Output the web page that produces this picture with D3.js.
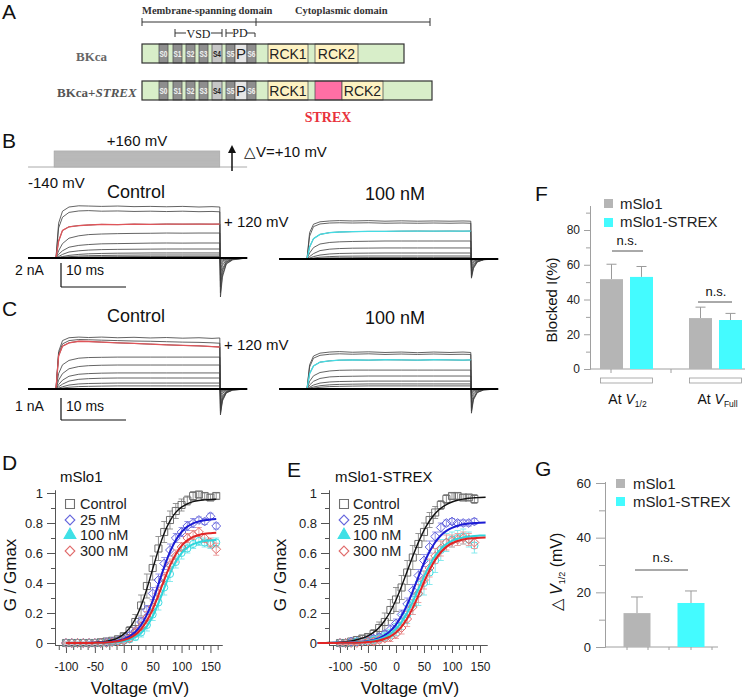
<!DOCTYPE html>
<html><head><meta charset="utf-8">
<script src="https://cdnjs.cloudflare.com/ajax/libs/d3/7.8.5/d3.min.js"></script>
<style>body{margin:0;background:#fff} svg{display:block}</style>
</head><body><svg id="fig" width="745" height="697"></svg>
<script>
// ================= DATA =================
// Panel A: domain map (residue-like units along the construct)
const coreSegments = [["S0",17,26,"tm"],["S1",31,40,"tm"],["S2",44,53,"tm"],["S3",57,66,"tm"],["S4",70,80,"s4"],["S5",84,93,"tm"],["P",93,105,"p"],["S6",105,114,"tm"],["RCK1",126,166,"rck"]];
const bkcaCyto = [["RCK2",173,216,"rck"]];
const strexCyto = [["",173,200,"strex"],["RCK2",200,241,"rck"]];
const bkcaLength = 262, strexLength = 290;

// Panels B, C: current traces (nA) sampled at these times (ms)
const traceTime = [-4.3,0,0.4,1,2,3.5,5,7,9.5,12,14.5,17,19.5,22,24,25.2,25.3,25.6,26.2,27.2,29.4];
const bControl = [
 [0,0,2.9,3.9,4.25,4.35,4.33,4.3,4.33,4.28,4.3,4.27,4.3,4.25,4.28,4.25,-3.25,-1.6,-0.5,-0.15,0],
 [0,0,2.5,3.4,3.8,3.92,3.95,3.9,3.92,3.88,3.9,3.87,3.9,3.86,3.88,3.85,-2.9,-1.4,-0.45,-0.12,0],
 [0,0,1.4,2.3,2.6,2.7,2.75,2.8,2.78,2.82,2.8,2.83,2.82,2.83,2.82,2.83,-2.4,-1.1,-0.35,-0.1,0],
 [0,0,0.6,1.2,1.65,1.85,1.95,2.0,2.03,2.05,2.06,2.08,2.07,2.08,2.08,2.08,-1.9,-0.9,-0.3,-0.08,0],
 [0,0,0.3,0.6,0.9,1.05,1.12,1.18,1.2,1.22,1.24,1.25,1.24,1.25,1.25,1.25,-1.4,-0.6,-0.2,-0.05,0],
 [0,0,0.12,0.3,0.5,0.6,0.66,0.7,0.72,0.73,0.74,0.75,0.75,0.75,0.75,0.75,-1.0,-0.4,-0.12,-0.03,0],
 [0,0,0.05,0.12,0.22,0.3,0.35,0.38,0.4,0.41,0.42,0.42,0.42,0.42,0.42,0.42,-0.6,-0.25,-0.08,-0.02,0],
 [0,0,0.02,0.06,0.11,0.16,0.19,0.21,0.23,0.24,0.25,0.25,0.25,0.25,0.25,0.25,-0.35,-0.15,-0.05,0,0],
 [0,0,0.01,0.02,0.05,0.07,0.09,0.1,0.11,0.12,0.12,0.12,0.12,0.12,0.12,0.12,-0.2,-0.08,-0.02,0,0]
];
const b100nM = [
 [0,0,2.2,2.9,3.1,3.17,3.2,3.17,3.2,3.15,3.18,3.15,3.17,3.15,3.17,3.15,-1.6,-0.8,-0.25,-0.06,0],
 [0,0,1.9,2.7,2.92,3.0,3.02,3.0,3.02,2.98,3.0,2.98,3.0,2.98,3.0,2.98,-1.5,-0.7,-0.22,-0.05,0],
 [0,0,1.0,1.7,2.05,2.2,2.25,2.28,2.3,2.3,2.32,2.33,2.32,2.33,2.32,2.33,-1.3,-0.6,-0.2,-0.05,0],
 [0,0,0.5,0.95,1.25,1.38,1.43,1.46,1.48,1.5,1.5,1.5,1.5,1.5,1.5,1.5,-1.0,-0.45,-0.15,-0.04,0],
 [0,0,0.2,0.45,0.7,0.82,0.87,0.9,0.91,0.92,0.92,0.92,0.92,0.92,0.92,0.92,-0.7,-0.3,-0.1,-0.02,0],
 [0,0,0.08,0.2,0.33,0.42,0.46,0.48,0.49,0.5,0.5,0.5,0.5,0.5,0.5,0.5,-0.45,-0.2,-0.06,0,0],
 [0,0,0.03,0.08,0.15,0.2,0.23,0.24,0.25,0.25,0.25,0.25,0.25,0.25,0.25,0.25,-0.25,-0.1,-0.03,0,0],
 [0,0,0.01,0.03,0.06,0.09,0.1,0.11,0.12,0.12,0.12,0.12,0.12,0.12,0.12,0.12,-0.12,-0.05,0,0,0]
];
const cControl = [
 [0,0,1.7,2.2,2.33,2.36,2.34,2.36,2.33,2.35,2.32,2.34,2.31,2.33,2.3,2.32,-1.18,-0.55,-0.18,-0.05,0],
 [0,0,1.6,2.05,2.2,2.25,2.24,2.22,2.2,2.18,2.17,2.15,2.13,2.12,2.1,2.08,-1.1,-0.5,-0.16,-0.04,0],
 [0,0,1.5,1.95,2.1,2.17,2.16,2.13,2.1,2.07,2.04,2.01,1.98,1.96,1.93,1.91,-1.0,-0.45,-0.15,-0.04,0],
 [0,0,0.7,1.1,1.3,1.4,1.43,1.44,1.45,1.45,1.45,1.45,1.45,1.45,1.45,1.45,-0.85,-0.38,-0.12,-0.03,0],
 [0,0,0.4,0.7,0.92,1.02,1.06,1.08,1.09,1.09,1.09,1.09,1.09,1.09,1.09,1.09,-0.65,-0.3,-0.1,-0.02,0],
 [0,0,0.2,0.4,0.58,0.67,0.7,0.72,0.73,0.73,0.73,0.73,0.73,0.73,0.73,0.73,-0.45,-0.2,-0.06,0,0],
 [0,0,0.1,0.22,0.36,0.44,0.47,0.49,0.5,0.5,0.5,0.5,0.5,0.5,0.5,0.5,-0.3,-0.12,-0.04,0,0],
 [0,0,0.04,0.1,0.18,0.23,0.25,0.26,0.27,0.27,0.27,0.27,0.27,0.27,0.27,0.27,-0.18,-0.07,-0.02,0,0],
 [0,0,0.02,0.04,0.08,0.11,0.12,0.13,0.14,0.14,0.14,0.14,0.14,0.14,0.14,0.14,-0.1,-0.04,0,0,0]
];
const c100nM = [
 [0,0,1.1,1.5,1.63,1.68,1.7,1.67,1.69,1.66,1.68,1.65,1.68,1.66,1.68,1.66,-1.1,-0.5,-0.16,-0.04,0],
 [0,0,1.0,1.4,1.53,1.58,1.6,1.58,1.6,1.57,1.59,1.57,1.59,1.57,1.58,1.57,-1.0,-0.45,-0.15,-0.04,0],
 [0,0,0.7,1.05,1.22,1.28,1.31,1.32,1.31,1.33,1.32,1.31,1.33,1.32,1.31,1.32,-0.85,-0.4,-0.12,-0.03,0],
 [0,0,0.35,0.6,0.75,0.82,0.85,0.86,0.86,0.86,0.86,0.86,0.86,0.86,0.86,0.86,-0.6,-0.28,-0.08,-0.02,0],
 [0,0,0.18,0.35,0.48,0.55,0.57,0.58,0.59,0.59,0.59,0.59,0.59,0.59,0.59,0.59,-0.4,-0.18,-0.05,0,0],
 [0,0,0.08,0.18,0.27,0.32,0.34,0.35,0.36,0.36,0.36,0.36,0.36,0.36,0.36,0.36,-0.25,-0.1,-0.03,0,0],
 [0,0,0.04,0.09,0.15,0.19,0.21,0.22,0.23,0.23,0.23,0.23,0.23,0.23,0.23,0.23,-0.15,-0.06,0,0,0],
 [0,0,0.02,0.04,0.08,0.11,0.12,0.13,0.14,0.14,0.14,0.14,0.14,0.14,0.14,0.14,-0.08,-0.03,0,0,0]
];
const protocolSteps = [-140,-130,-120,-110,-100,-90,-80,-70,-60,-50,-40,-30,-20,-10,0,10,20,30,40,50,60,70,80,90,100,110,120,130,140,150,160];

// Panel D: mSlo1 G/Gmax
const vD = [-100,-90,-80,-70,-60,-50,-40,-30,-20,-10,0,10,20,30,40,50,60,70,80,90,100,110,120,130,140,150,160];
const ctrlD = [0,0,0,0,0,0,0.005,0.01,0.015,0.025,0.045,0.08,0.14,0.25,0.38,0.50,0.63,0.74,0.82,0.88,0.92,0.95,0.98,0.99,0.98,0.97,0.98];
const ctrlDerr = [0.005,0.005,0.005,0.005,0.005,0.005,0.005,0.01,0.01,0.015,0.02,0.03,0.05,0.07,0.08,0.08,0.08,0.07,0.06,0.05,0.04,0.03,0.03,0.02,0.02,0.02,0.02];
const nM25D = [0,0,0,0,0,0,0,0.005,0.01,0.015,0.025,0.05,0.08,0.14,0.22,0.33,0.42,0.53,0.62,0.70,0.74,0.78,0.80,0.82,0.81,0.845,0.78];
const nM25Derr = [0.005,0.005,0.005,0.005,0.005,0.005,0.005,0.005,0.01,0.01,0.015,0.02,0.02,0.03,0.03,0.04,0.04,0.04,0.04,0.03,0.03,0.03,0.03,0.02,0.02,0.02,0.02];
const nM100D = [0,0,0,0,0,0,0,0,0.005,0.01,0.015,0.025,0.04,0.07,0.12,0.19,0.27,0.37,0.46,0.54,0.60,0.63,0.66,0.68,0.67,0.66,0.67];
const nM100Derr = [0.005,0.005,0.005,0.005,0.005,0.005,0.005,0.005,0.01,0.01,0.015,0.02,0.02,0.03,0.04,0.04,0.05,0.05,0.05,0.04,0.04,0.03,0.03,0.03,0.03,0.03,0.03];
const nM300D = [0,0,0,0,0,0,0,0,0.005,0.01,0.015,0.03,0.07,0.11,0.17,0.24,0.33,0.43,0.52,0.58,0.64,0.70,0.72,0.74,0.70,0.67,0.625];
const nM300Derr = [0.005,0.005,0.005,0.005,0.005,0.005,0.005,0.005,0.01,0.01,0.015,0.02,0.03,0.03,0.04,0.04,0.04,0.04,0.04,0.04,0.03,0.03,0.03,0.03,0.03,0.03,0.04];
const fitCtrlD = [0,0,0,0.001,0.002,0.004,0.007,0.012,0.020,0.035,0.059,0.099,0.16,0.248,0.362,0.493,0.622,0.732,0.814,0.871,0.906,0.928,0.942,0.950,0.954,0.957,0.958];
const fit25D = [0,0,0,0,0.001,0.002,0.003,0.005,0.009,0.015,0.026,0.044,0.073,0.12,0.189,0.281,0.392,0.506,0.607,0.685,0.740,0.776,0.798,0.811,0.819,0.823,0.826];
const fit100D = [0,0,0,0,0,0,0.001,0.002,0.004,0.007,0.012,0.022,0.039,0.067,0.111,0.178,0.265,0.365,0.462,0.541,0.599,0.636,0.659,0.672,0.680,0.684,0.687];
const fit300D = [0,0,0,0,0,0.001,0.002,0.004,0.007,0.011,0.020,0.033,0.056,0.093,0.148,0.224,0.319,0.421,0.516,0.592,0.647,0.684,0.707,0.720,0.728,0.732,0.735];

// Panel E: mSlo1-STREX G/Gmax
const vE = [-100,-90,-80,-70,-60,-50,-40,-30,-20,-10,0,10,20,30,40,50,60,70,80,90,100,110,120,130,140];
const ctrlE = [0,0,0.01,0.02,0.03,0.04,0.06,0.10,0.14,0.22,0.29,0.37,0.47,0.57,0.66,0.74,0.82,0.87,0.92,0.96,0.98,0.98,0.97,0.97,0.96];
const ctrlEerr = [0.01,0.01,0.01,0.01,0.02,0.02,0.03,0.04,0.06,0.07,0.08,0.08,0.08,0.08,0.07,0.06,0.05,0.04,0.03,0.03,0.02,0.02,0.02,0.02,0.03];
const nM25E = [0,0,0.01,0.01,0.01,0.02,0.03,0.04,0.06,0.09,0.13,0.19,0.26,0.35,0.45,0.55,0.64,0.71,0.77,0.80,0.81,0.80,0.80,0.80,0.81];
const nM25Eerr = [0.01,0.01,0.01,0.01,0.01,0.01,0.02,0.02,0.02,0.03,0.03,0.03,0.04,0.04,0.04,0.04,0.04,0.03,0.03,0.02,0.02,0.02,0.02,0.02,0.02];
const nM100E = [0,0,0,0.01,0.01,0.01,0.02,0.03,0.04,0.06,0.09,0.14,0.19,0.26,0.33,0.40,0.47,0.55,0.62,0.67,0.69,0.70,0.71,0.69,0.65];
const nM100Eerr = [0.01,0.01,0.01,0.01,0.01,0.01,0.02,0.02,0.03,0.03,0.04,0.05,0.06,0.07,0.08,0.08,0.08,0.08,0.07,0.06,0.05,0.05,0.05,0.05,0.05];
const nM300E = [0,0,0,0,0.01,0.01,0.01,0.02,0.03,0.04,0.06,0.10,0.16,0.24,0.33,0.42,0.50,0.58,0.63,0.67,0.68,0.69,0.70,0.69,0.67];
const nM300Eerr = [0.01,0.01,0.01,0.01,0.01,0.01,0.02,0.02,0.02,0.03,0.03,0.04,0.05,0.05,0.06,0.06,0.06,0.05,0.05,0.05,0.04,0.04,0.04,0.04,0.04];
const fitVE = [-140,-130,-120,-110,-100,-90,-80,-70,-60,-50,-40,-30,-20,-10,0,10,20,30,40,50,60,70,80,90,100,110,120,130,140,150,160];
const fitCtrlE = [0.001,0.002,0.003,0.004,0.006,0.010,0.014,0.022,0.032,0.048,0.071,0.104,0.150,0.210,0.287,0.378,0.478,0.578,0.671,0.751,0.815,0.863,0.898,0.923,0.940,0.952,0.959,0.965,0.968,0.970,0.972];
const fit25E = [0,0,0.0005,0.001,0.001,0.002,0.003,0.005,0.008,0.013,0.021,0.033,0.052,0.081,0.123,0.181,0.256,0.345,0.441,0.532,0.610,0.672,0.717,0.748,0.768,0.782,0.791,0.796,0.800,0.802,0.803];
const fit100E = [0,0,0,0.001,0.001,0.002,0.002,0.004,0.006,0.010,0.016,0.025,0.039,0.061,0.094,0.139,0.200,0.276,0.360,0.444,0.519,0.581,0.627,0.659,0.681,0.695,0.704,0.709,0.713,0.716,0.717];
const fit300E = [0,0,0,0,0.001,0.001,0.001,0.002,0.004,0.006,0.010,0.017,0.028,0.044,0.070,0.109,0.163,0.234,0.317,0.405,0.487,0.554,0.605,0.641,0.665,0.680,0.690,0.696,0.699,0.702,0.703];

const gTicks = [0,0.2,0.4,0.6,0.8,1];
const gMinorTicks = [0.1,0.3,0.5,0.7,0.9];
const vTicks = [-100,-50,0,50,100,150];
const vMinorTicks = [-112.5,-87.5,-75,-62.5,-37.5,-25,-12.5,12.5,25,37.5,62.5,75,87.5,112.5,125,137.5,162.5];
const legendLabels = ["Control","25 nM","100 nM","300 nM"];

// Panel F: blocked current (%)
const groupsF = ["half","full"];
const blockedSlo1 = [51.7, 29.3];
const blockedSlo1Err = [8.6, 6.3];
const blockedStrex = [53.0, 28.2];
const blockedStrexErr = [6.0, 3.8];
const fTicks = [0,20,40,60,80];
const fMinorTicks = [10,30,50,70,90];

// Panel G: delta V1/2 (mV)
const channelsG = ["mSlo1","mSlo1-STREX"];
const dV = [12.4, 16.1];
const dVerr = [5.9, 4.4];
const gBarTicks = [0,20,40,60];
const gBarMinor = [10,30,50];

// ================= DRAWING =================
const SANS = "'Liberation Sans', Arial, Helvetica, sans-serif";
const SERIF = "'Liberation Serif', 'Times New Roman', serif";
const fig = d3.select("#fig");
fig.append("rect").attr("width",745).attr("height",697).attr("fill","#fff");

function txt(x, y, s, o = {}) {
  return fig.append("text").attr("x", x).attr("y", y).text(s)
    .attr("font-family", o.family || SANS).attr("font-size", o.size || 14)
    .attr("font-weight", o.weight || "normal").attr("fill", o.fill || "#111")
    .attr("text-anchor", o.anchor || "start").attr("font-style", o.style || "normal");
}
function styleAx(sel, color, fs) {
  sel.attr("font-family", SANS).attr("font-size", fs);
  sel.select(".domain").attr("stroke", color);
  sel.selectAll(".tick line").attr("stroke", color);
  sel.selectAll(".tick text").attr("fill", "#222");
}

// panel letters
[["A",2,19],["B",2,148],["C",2,316],["D",2,470],["E",287,477],["F",535,201],["G",535,476]]
  .forEach(d => txt(d[1], d[2], d[0], {size: 21}));

// ---------- Panel A ----------
(function(){
  const xA = d3.scaleLinear().domain([0, 290]).range([142, 432]);
  txt(142, 14, "Membrane-spanning domain", {family: SERIF, weight: "bold", size: 10.5, fill: "#333"});
  txt(295, 14, "Cytoplasmic domain", {family: SERIF, weight: "bold", size: 10.5, fill: "#333"});
  const g = fig.append("g").attr("stroke", "#333").attr("stroke-width", 1);
  g.append("line").attr("x1", xA(0)).attr("x2", xA(288)).attr("y1", 22).attr("y2", 22);
  [0, 114, 288].forEach(u => g.append("line").attr("x1", xA(u)).attr("x2", xA(u)).attr("y1", 18).attr("y2", 26));
  g.append("line").attr("x1", xA(33)).attr("x2", xA(44)).attr("y1", 33).attr("y2", 33);
  g.append("line").attr("x1", xA(33)).attr("x2", xA(33)).attr("y1", 29).attr("y2", 37);
  g.append("line").attr("x1", xA(69)).attr("x2", xA(80)).attr("y1", 33).attr("y2", 33);
  g.append("line").attr("x1", xA(80)).attr("x2", xA(80)).attr("y1", 29).attr("y2", 37);
  txt(xA(56.5), 38, "VSD", {family: SERIF, size: 12, anchor: "middle", fill: "#222"});
  g.append("line").attr("x1", xA(84)).attr("x2", xA(91)).attr("y1", 33).attr("y2", 33);
  g.append("line").attr("x1", xA(84)).attr("x2", xA(84)).attr("y1", 29).attr("y2", 37);
  g.append("line").attr("x1", xA(105)).attr("x2", xA(113)).attr("y1", 33).attr("y2", 33);
  g.append("line").attr("x1", xA(113)).attr("x2", xA(113)).attr("y1", 33).attr("y2", 37);
  txt(xA(98), 37, "PD", {family: SERIF, size: 12, anchor: "middle", fill: "#222"});

  const fills = {tm: "#8e8e8e", s4: "#c6c6c6", p: "#e6e6e6", rck: "#fdf2c2", strex: "#ff6fa5"};
  const rows = [
    {top: 44, len: bkcaLength, segs: coreSegments.concat(bkcaCyto)},
    {top: 81, len: strexLength, segs: coreSegments.concat(strexCyto)}
  ];
  const h = 19;
  rows.forEach(r => {
    const rg = fig.append("g");
    rg.append("rect").attr("x", xA(0)).attr("y", r.top).attr("width", xA(r.len) - xA(0)).attr("height", h).attr("fill", "#d8eec9");
    rg.selectAll("rect.seg").data(r.segs).join("rect").attr("class", "seg")
      .attr("x", d => xA(d[1])).attr("y", r.top).attr("width", d => xA(d[2]) - xA(d[1])).attr("height", h)
      .attr("fill", d => fills[d[3]]).attr("stroke", "#555").attr("stroke-width", 0.8);
    rg.selectAll("text").data(r.segs).join("text")
      .attr("x", d => (xA(d[1]) + xA(d[2])) / 2)
      .attr("y", d => r.top + (d[3] === "tm" || d[3] === "s4" ? 13 : 15))
      .attr("text-anchor", "middle").attr("font-family", SANS)
      .attr("font-size", d => d[3] === "rck" ? 14 : d[3] === "p" ? 15 : 8.5)
      .attr("font-weight", d => d[3] === "tm" || d[3] === "s4" ? "bold" : "normal")
      .attr("fill", d => d[3] === "tm" ? "#f2f2f2" : "#222")
      .attr("textLength", d => d[3] === "tm" || d[3] === "s4" ? 8 : null)
      .attr("lengthAdjust", "spacingAndGlyphs")
      .text(d => d[0]);
    rg.append("rect").attr("x", xA(0)).attr("y", r.top).attr("width", xA(r.len) - xA(0)).attr("height", h)
      .attr("fill", "none").attr("stroke", "#333").attr("stroke-width", 1.2);
  });
  txt(76, 61, "BKca", {family: SERIF, weight: "bold", size: 13, fill: "#666"});
  const t2 = txt(57, 97, "BKca+", {family: SERIF, weight: "bold", size: 13, fill: "#555"});
  t2.append("tspan").attr("font-style", "italic").text("STREX");
  txt(xA(186), 122, "STREX", {family: SERIF, weight: "bold", size: 14, fill: "#e8323c", anchor: "middle"});
})();

// ---------- Panel B protocol ----------
(function(){
  const tx = d3.scaleLinear().domain([0, 10]).range([56, 121]);
  const vy = d3.scaleLinear().domain([-140, 160]).range([167, 151]);
  fig.append("line").attr("x1", tx(-4.3)).attr("x2", tx(29.4)).attr("y1", 167).attr("y2", 167).attr("stroke", "#aaa").attr("stroke-width", 1);
  fig.append("rect").attr("x", tx(-0.3)).attr("y", vy(160)).attr("width", tx(25.2) - tx(-0.3)).attr("height", vy(-140) - vy(160))
    .attr("fill", "#cdcdcd").attr("stroke", "#aaa").attr("stroke-width", 0.6);
  fig.append("g").selectAll("line").data(protocolSteps).join("line")
    .attr("x1", tx(-0.3)).attr("x2", tx(25.2)).attr("y1", d => vy(d)).attr("y2", d => vy(d))
    .attr("stroke", "#a8a8a8").attr("stroke-width", 0.35);
  txt(137, 146, "+160 mV", {size: 15, anchor: "middle"});
  txt(28, 188, "-140 mV", {size: 15});
  fig.append("line").attr("x1", 232).attr("x2", 232).attr("y1", 171).attr("y2", 151).attr("stroke", "#111").attr("stroke-width", 1.5);
  fig.append("path").attr("d", "M232,145 L228,153 L236,153 Z").attr("fill", "#111");
  txt(244, 157, "\u25B3V=+10 mV", {size: 15});
})();

// ---------- Traces ----------
function tracePanel(x0, base, pxPerNA, traces, hiIdx, hiColor) {
  const x = d3.scaleLinear().domain([0, 10]).range([x0, x0 + 65]);
  const y = d3.scaleLinear().domain([0, 1]).range([base, base - pxPerNA]);
  const line = d3.line().x((d, i) => x(traceTime[i])).y(d => y(d));
  const pulseLine = d3.line().defined((d, i) => i >= 1 && i <= 15).x((d, i) => x(traceTime[i])).y(d => y(d));
  const g = fig.append("g").attr("fill", "none");
  g.selectAll("path.tr").data(traces).join("path").attr("class", "tr")
    .attr("d", line).attr("stroke", "#3c3c3c").attr("stroke-width", 0.8);
  g.append("path").attr("d", pulseLine(traces[hiIdx])).attr("stroke", hiColor).attr("stroke-width", 1.3);
  g.append("line").attr("x1", x(-4.3)).attr("x2", x(29.4)).attr("y1", y(0)).attr("y2", y(0)).attr("stroke", "#000").attr("stroke-width", 2);
  return {x, y};
}
const bc = tracePanel(56, 258, 12, bControl, 2, "#e0555a");
tracePanel(307, 259, 12, b100nM, 2, "#45dce4");
const cc = tracePanel(56, 389, 22, cControl, 2, "#e0555a");
tracePanel(307, 389, 22, c100nM, 2, "#45dce4");

txt(136, 198, "Control", {size: 18, anchor: "middle"});
txt(395, 200, "100 nM", {size: 18, anchor: "middle"});
txt(136, 322, "Control", {size: 18, anchor: "middle"});
txt(395, 324, "100 nM", {size: 18, anchor: "middle"});
txt(224, 227, "+ 120 mV", {size: 15});
txt(224, 350, "+ 120 mV", {size: 15});

// scale bars
(function(){
  const s = fig.append("g").attr("stroke", "#111").attr("stroke-width", 1.2);
  const bLen = bc.y(0) - bc.y(2), tLen = bc.x(10) - bc.x(0);
  s.append("line").attr("x1", 61).attr("x2", 61).attr("y1", 287 - bLen).attr("y2", 287);
  s.append("line").attr("x1", 61).attr("x2", 61 + tLen).attr("y1", 287).attr("y2", 287);
  const cLen = cc.y(0) - cc.y(1);
  s.append("line").attr("x1", 61).attr("x2", 61).attr("y1", 420 - cLen).attr("y2", 420);
  s.append("line").attr("x1", 61).attr("x2", 61 + tLen).attr("y1", 420).attr("y2", 420);
  txt(15, 275, "2 nA", {size: 14});
  txt(66, 275, "10 ms", {size: 14});
  txt(15, 411, "1 nA", {size: 14});
  txt(66, 411, "10 ms", {size: 14});
})();

// ---------- G-V panels ----------
const seriesStyle = [
  {mk: "square", color: "#707070", err: "#8a8a8a", fit: "#111", fw: 1.4},
  {mk: "diamond", color: "#6464dc", err: "#8c8ce6", fit: "#1c1cd4", fw: 2},
  {mk: "circle", color: "#3fdde3", err: "#7ce8ec", fit: "#2fd5dc", fw: 2},
  {mk: "diamond", color: "#e06a6a", err: "#eb9a9a", fit: "#e02626", fw: 2}
];
function sym(type, size) {
  const t = type === "square" ? d3.symbolSquare : type === "diamond" ? d3.symbolDiamond2 : type === "triangle" ? d3.symbolTriangle : d3.symbolCircle;
  return d3.symbol().type(t).size(size)();
}
function gvPanel(p) {
  const g = fig.append("g");
  const x = d3.scaleLinear().domain(p.xDomain).range(p.xRange);
  const y = d3.scaleLinear().domain([-0.0133, 1.02]).range([645, 490]);
  g.append("g").attr("transform", `translate(${p.xRange[0]},0)`)
    .call(d3.axisLeft(y).tickValues(gTicks).tickSize(8).tickSizeOuter(0).tickPadding(4).tickFormat(d => d === 0 ? "0" : d === 1 ? "1" : d3.format(".1f")(d)))
    .call(styleAx, "#555", 13);
  g.append("g").attr("transform", `translate(${p.xRange[0]},0)`)
    .call(d3.axisLeft(y).tickValues(gMinorTicks).tickSize(4).tickSizeOuter(0).tickFormat(""))
    .call(styleAx, "#555", 12);
  g.append("g").attr("transform", "translate(0,645)")
    .call(d3.axisBottom(x).tickValues(vTicks).tickSize(8).tickSizeOuter(0).tickPadding(9).tickFormat(d => String(d)))
    .call(styleAx, "#555", 12);
  g.append("g").attr("transform", "translate(0,645)")
    .call(d3.axisBottom(x).tickValues(vMinorTicks.filter(v => v > p.xDomain[0] && v < p.xDomain[1])).tickSize(5).tickSizeOuter(0).tickFormat(""))
    .call(styleAx, "#555", 12);

  p.series.forEach((s, k) => {
    const st = seriesStyle[k];
    const pts = p.v.map((v, i) => ({v, m: s.mean[i], e: s.err[i]}));
    const eg = g.append("g").attr("stroke", st.err).attr("stroke-width", 0.9);
    eg.selectAll("line.v").data(pts).join("line").attr("class", "v")
      .attr("x1", d => x(d.v)).attr("x2", d => x(d.v)).attr("y1", d => y(d.m - d.e)).attr("y2", d => y(d.m + d.e));
    eg.selectAll("line.t").data(pts).join("line").attr("class", "t")
      .attr("x1", d => x(d.v) - 3).attr("x2", d => x(d.v) + 3).attr("y1", d => y(d.m + d.e)).attr("y2", d => y(d.m + d.e));
    eg.selectAll("line.b").data(pts).join("line").attr("class", "b")
      .attr("x1", d => x(d.v) - 3).attr("x2", d => x(d.v) + 3).attr("y1", d => y(d.m - d.e)).attr("y2", d => y(d.m - d.e));
    g.append("g").selectAll("path").data(pts).join("path")
      .attr("transform", d => `translate(${x(d.v)},${y(d.m)})`)
      .attr("d", sym(st.mk, st.mk === "circle" ? 40 : 50))
      .attr("fill", "none").attr("stroke", st.color).attr("stroke-width", 1);
  });
  p.series.forEach((s, k) => {
    const st = seriesStyle[k];
    g.append("path").datum(s.fit)
      .attr("d", d3.line().x((d, i) => x(p.fitV[i])).y(d => y(d)).curve(d3.curveMonotoneX))
      .attr("fill", "none").attr("stroke", st.fit).attr("stroke-width", st.fw);
  });
  // legend
  const lx = p.legendX, ly = [504, 520, 535, 551];
  const lmk = ["square", "diamond", "triangle", "diamond"];
  legendLabels.forEach((lab, k) => {
    g.append("path").attr("transform", `translate(${lx},${ly[k]})`).attr("d", sym(lmk[k], k === 0 ? 80 : 60))
      .attr("fill", k === 2 ? "#3fe0e6" : "none").attr("stroke", k === 2 ? "#3fe0e6" : seriesStyle[k].color).attr("stroke-width", 1.1);
    g.append("text").attr("x", lx + p.legendGap).attr("y", ly[k] + 5).attr("font-family", SANS).attr("font-size", 14.5).attr("fill", "#222").text(lab);
  });
  txt(p.titleX, 482, p.title, {size: 15});
  txt(p.labelX, 694, "Voltage (mV)", {size: 17, anchor: "middle"});
  fig.append("text").attr("transform", `translate(${p.yLabelX},575) rotate(-90)`).attr("text-anchor", "middle")
    .attr("font-family", SANS).attr("font-size", 17).attr("fill", "#111").text("G / Gmax");
}
gvPanel({
  xDomain: [-119, 170], xRange: [55, 222], v: vD, fitV: vD,
  series: [{mean: ctrlD, err: ctrlDerr, fit: fitCtrlD}, {mean: nM25D, err: nM25Derr, fit: fit25D},
           {mean: nM100D, err: nM100Derr, fit: fit100D}, {mean: nM300D, err: nM300Derr, fit: fit300D}],
  legendX: 70, legendGap: 10, title: "mSlo1", titleX: 60, labelX: 140, yLabelX: 16
});
gvPanel({
  xDomain: [-119.6, 162.5], xRange: [329, 487], v: vE, fitV: fitVE,
  series: [{mean: ctrlE, err: ctrlEerr, fit: fitCtrlE}, {mean: nM25E, err: nM25Eerr, fit: fit25E},
           {mean: nM100E, err: nM100Eerr, fit: fit100E}, {mean: nM300E, err: nM300Eerr, fit: fit300E}],
  legendX: 344, legendGap: 9, title: "mSlo1-STREX", titleX: 335, labelX: 410, yLabelX: 286
});

// ---------- Panel F ----------
(function(){
  const g = fig.append("g");
  const y = d3.scaleLinear().domain([0, 94]).range([369, 369 - 94 * 1.7375]);
  const xg = d3.scaleBand().domain(groupsF).range([582, 760]);
  const xs = d3.scaleBand().domain(["a", "b"]).range([-26.5, 26.5]).paddingInner(0.2333);
  g.append("g").attr("transform", "translate(590,0)")
    .call(d3.axisLeft(y).tickValues(fTicks).tickSize(6).tickSizeOuter(0).tickPadding(4))
    .call(styleAx, "#a0a0a0", 12);
  g.append("g").attr("transform", "translate(590,0)")
    .call(d3.axisLeft(y).tickValues(fMinorTicks).tickSize(4).tickSizeOuter(0).tickFormat(""))
    .call(styleAx, "#a0a0a0", 12);
  g.append("line").attr("x1", 590).attr("x2", 745).attr("y1", y(0)).attr("y2", y(0)).attr("stroke", "#a0a0a0");
  [611, 671].forEach(t => g.append("line").attr("x1", t).attr("x2", t).attr("y1", y(0)).attr("y2", y(0) + 4).attr("stroke", "#a0a0a0"));
  const bars = [];
  groupsF.forEach((gr, i) => {
    bars.push({gr, s: "a", v: blockedSlo1[i], e: blockedSlo1Err[i], c: "#b5b5b5"});
    bars.push({gr, s: "b", v: blockedStrex[i], e: blockedStrexErr[i], c: "#44fbff"});
  });
  const bx = d => xg(d.gr) + xg.bandwidth() / 2 + xs(d.s);
  g.selectAll("line.eb").data(bars).join("line").attr("class", "eb")
    .attr("x1", d => bx(d) + xs.bandwidth() / 2).attr("x2", d => bx(d) + xs.bandwidth() / 2)
    .attr("y1", d => y(d.v)).attr("y2", d => y(d.v + d.e)).attr("stroke", "#9a9a9a");
  g.selectAll("line.ec").data(bars).join("line").attr("class", "ec")
    .attr("x1", d => bx(d) + xs.bandwidth() / 2 - 5).attr("x2", d => bx(d) + xs.bandwidth() / 2 + 5)
    .attr("y1", d => y(d.v + d.e)).attr("y2", d => y(d.v + d.e)).attr("stroke", "#9a9a9a");
  g.selectAll("rect.bar").data(bars).join("rect").attr("class", "bar")
    .attr("x", bx).attr("width", xs.bandwidth()).attr("y", d => y(d.v)).attr("height", d => y(0) - y(d.v)).attr("fill", d => d.c);
  groupsF.forEach(gr => {
    g.append("rect").attr("x", xg(gr) + xg.bandwidth() / 2 - 26).attr("y", 378).attr("width", 52).attr("height", 5)
      .attr("fill", "#fff").attr("stroke", "#999").attr("stroke-width", 0.8);
  });
  const lab = (cx, sub) => {
    const t = txt(cx, 404, "At ", {size: 14, anchor: "middle"});
    t.append("tspan").attr("font-style", "italic").text("V");
    t.append("tspan").attr("font-size", 8.5).attr("dy", 3).text(sub);
  };
  lab(xg("half") + xg.bandwidth() / 2 + 1, "1/2");
  lab(xg("full") + xg.bandwidth() / 2 + 2, "Full");
  txt(627, 245, "n.s.", {size: 13, anchor: "middle"});
  g.append("line").attr("x1", 612).attr("x2", 643).attr("y1", 251).attr("y2", 251).attr("stroke", "#555");
  txt(716, 296, "n.s.", {size: 13, anchor: "middle"});
  g.append("line").attr("x1", 698).attr("x2", 732).attr("y1", 302).attr("y2", 302).attr("stroke", "#555");
  g.append("rect").attr("x", 604).attr("y", 199).attr("width", 9).attr("height", 9).attr("fill", "#b5b5b5");
  g.append("rect").attr("x", 604).attr("y", 218).attr("width", 9).attr("height", 9).attr("fill", "#44fbff");
  txt(620, 209, "mSlo1", {size: 15, fill: "#222"});
  txt(620, 227, "mSlo1-STREX", {size: 15, fill: "#222"});
  fig.append("text").attr("transform", "translate(557,300) rotate(-90)").attr("text-anchor", "middle")
    .attr("font-family", SANS).attr("font-size", 15).attr("fill", "#111").text("Blocked I(%)");
})();

// ---------- Panel G ----------
(function(){
  const g = fig.append("g");
  const y = d3.scaleLinear().domain([0, 60.5]).range([647, 647 - 60.5 * 2.7333]);
  const x = d3.scaleBand().domain(channelsG).range([610, 718]).paddingInner(0.5).paddingOuter(0.25);
  g.append("g").attr("transform", "translate(605,0)")
    .call(d3.axisLeft(y).tickValues(gBarTicks).tickSize(9).tickSizeOuter(0).tickPadding(5))
    .call(styleAx, "#a0a0a0", 13);
  g.append("g").attr("transform", "translate(605,0)")
    .call(d3.axisLeft(y).tickValues(gBarMinor).tickSize(6).tickSizeOuter(0).tickFormat(""))
    .call(styleAx, "#a0a0a0", 12);
  g.append("line").attr("x1", 605).attr("x2", 718).attr("y1", y(0)).attr("y2", y(0)).attr("stroke", "#a0a0a0");
  [627, 648, 669, 691, 712].forEach(t => g.append("line").attr("x1", t).attr("x2", t).attr("y1", y(0)).attr("y2", y(0) + 3).attr("stroke", "#a0a0a0"));
  const cols = ["#b5b5b5", "#44fbff"];
  channelsG.forEach((c, i) => {
    const cx = x(c) + x.bandwidth() / 2;
    g.append("line").attr("x1", cx).attr("x2", cx).attr("y1", y(dV[i])).attr("y2", y(dV[i] + dVerr[i])).attr("stroke", "#9a9a9a");
    g.append("line").attr("x1", cx - 6).attr("x2", cx + 6).attr("y1", y(dV[i] + dVerr[i])).attr("y2", y(dV[i] + dVerr[i])).attr("stroke", "#9a9a9a");
    g.append("rect").attr("x", x(c)).attr("width", x.bandwidth()).attr("y", y(dV[i])).attr("height", y(0) - y(dV[i])).attr("fill", cols[i]);
  });
  txt(663, 562, "n.s.", {size: 13, anchor: "middle"});
  g.append("line").attr("x1", 635).attr("x2", 688).attr("y1", 570).attr("y2", 570).attr("stroke", "#555");
  g.append("rect").attr("x", 616).attr("y", 479).attr("width", 9).attr("height", 9).attr("fill", "#b5b5b5");
  g.append("rect").attr("x", 616).attr("y", 497).attr("width", 9).attr("height", 9).attr("fill", "#44fbff");
  txt(633, 489, "mSlo1", {size: 15, fill: "#222"});
  txt(633, 507, "mSlo1-STREX", {size: 15, fill: "#222"});
  const t = fig.append("text").attr("transform", "translate(562,572) rotate(-90)").attr("text-anchor", "middle")
    .attr("font-family", SANS).attr("font-size", 16).attr("fill", "#111");
  t.append("tspan").text("\u25B3 ");
  t.append("tspan").attr("font-style", "italic").text("V");
  t.append("tspan").attr("font-size", 9).attr("dy", 3).text("1/2");
  t.append("tspan").attr("dy", -3).text(" (mV)");
})();
</script></body></html>
